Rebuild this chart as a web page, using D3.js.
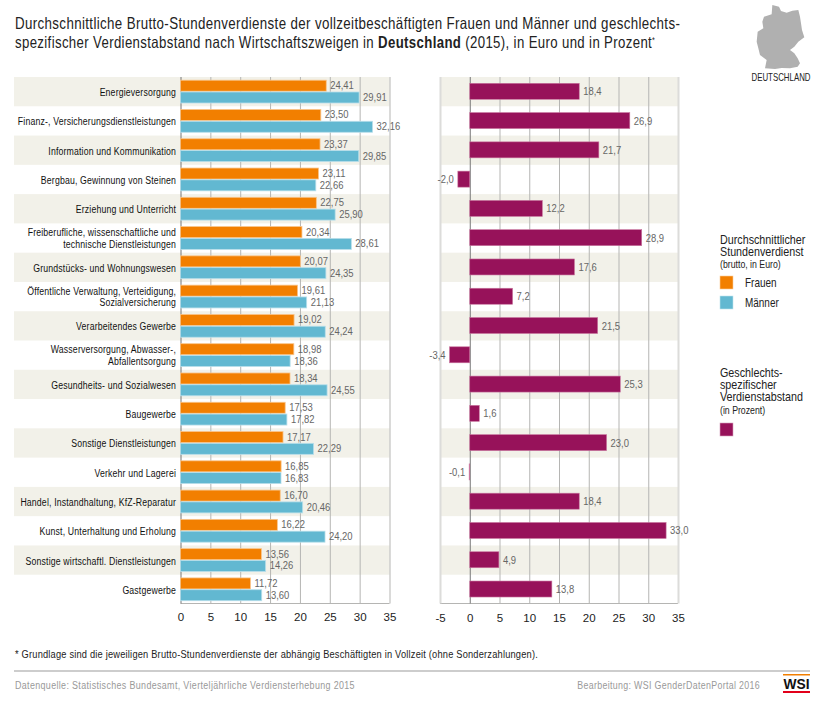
<!DOCTYPE html>
<html>
<head>
<meta charset="utf-8">
<script src="https://cdn.jsdelivr.net/npm/d3@7/dist/d3.min.js"></script>
<style>
  html, body { margin: 0; padding: 0; background: #fff; }
  svg { display: block; }
  text { font-family: "Liberation Sans", sans-serif; }
</style>
</head>
<body>
<div id="chart"></div>
<script>
const categories = [
  ["Energieversorgung"],
  ["Finanz-, Versicherungsdienstleistungen"],
  ["Information und Kommunikation"],
  ["Bergbau, Gewinnung von Steinen"],
  ["Erziehung und Unterricht"],
  ["Freiberufliche, wissenschaftliche und", "technische Dienstleistungen"],
  ["Grundstücks- und Wohnungswesen"],
  ["Öffentliche Verwaltung, Verteidigung,", "Sozialversicherung"],
  ["Verarbeitendes Gewerbe"],
  ["Wasserversorgung, Abwasser-,", "Abfallentsorgung"],
  ["Gesundheits- und Sozialwesen"],
  ["Baugewerbe"],
  ["Sonstige Dienstleistungen"],
  ["Verkehr und Lagerei"],
  ["Handel, Instandhaltung, KfZ-Reparatur"],
  ["Kunst, Unterhaltung und Erholung"],
  ["Sonstige wirtschaftl. Dienstleistungen"],
  ["Gastgewerbe"]
]
const frauen = [24.41, 23.50, 23.37, 23.11, 22.75, 20.34, 20.07, 19.61, 19.02, 18.98, 18.34, 17.53, 17.17, 16.85, 16.70, 16.22, 13.56, 11.72]
const maenner = [29.91, 32.16, 29.85, 22.66, 25.90, 28.61, 24.35, 21.13, 24.24, 18.36, 24.55, 17.82, 22.29, 16.83, 20.46, 24.20, 14.26, 13.60]
const abstand = [18.4, 26.9, 21.7, -2.0, 12.2, 28.9, 17.6, 7.2, 21.5, -3.4, 25.3, 1.6, 23.0, -0.1, 18.4, 33.0, 4.9, 13.8]
const ticksLeft = [0, 5, 10, 15, 20, 25, 30, 35]
const ticksRight = [-5, 0, 5, 10, 15, 20, 25, 30, 35]

const orange = "#f27f00", blue = "#62b8d1", purple = "#97125a"
const stripe = "#f2f1e9", grid = "#b5b5b3", ink = "#222", soft = "#666"

const svg = d3.select("#chart").append("svg").attr("width", 823).attr("height", 709)

const y = d3.scaleBand().domain(d3.range(categories.length)).range([77, 604])
const xL = d3.scaleLinear().domain([0, 35]).range([180.5, 389.5])
const xR = d3.scaleLinear().domain([-5, 35]).range([440, 678])
const comma = (v, n) => v.toFixed(n).replace(".", ",")

// no narrow font here, so squeeze the text horizontally
const label = (str, x, yy, size, k, color, anchor, spacing) => svg.append("text")
  .attr("transform", `translate(${x},${yy}) scale(${k},1)`)
  .attr("font-size", size).attr("fill", color || ink)
  .attr("text-anchor", anchor || "start")
  .attr("letter-spacing", spacing || 0)
  .text(str)

// stripes
svg.selectAll("rect.band").data(d3.range(0, 18, 2)).enter().append("rect")
  .attr("x", 14).attr("width", 375.5)
  .attr("y", (d) => y(d)).attr("height", y.bandwidth()).attr("fill", stripe)
svg.selectAll("rect.bandR").data(d3.range(0, 18, 2)).enter().append("rect")
  .attr("x", 440).attr("width", 238)
  .attr("y", (d) => y(d)).attr("height", y.bandwidth()).attr("fill", stripe)

// axes
const drawAxis = (x, ticks, pad) => {
  const g = svg.append("g").attr("transform", "translate(0,603.5)")
    .call(d3.axisBottom(x).tickValues(ticks).tickSize(-526.5).tickPadding(pad).tickFormat((d) => d))
  g.select(".domain").attr("stroke", grid).attr("stroke-width", 1.2).attr("d", `M${x.range()[0]},0H${x.range()[1]}`)
  g.selectAll(".tick line")
    .attr("stroke", (d) => d === 0 ? "#777" : grid)
    .attr("stroke-width", 1)
  g.selectAll(".tick text").attr("font-size", 11.5).attr("fill", ink)
  return g
}
drawAxis(xL, ticksLeft, 9)
const axR = drawAxis(xR, ticksRight, 10)
axR.selectAll(".tick line").filter((d) => d === -5 || d === 35).attr("stroke", "#dcdcda").attr("stroke-width", 2)

// category labels
categories.forEach((lines, i) => {
  const top = y(i) + y.bandwidth() / 2 + (lines.length > 1 ? 3.5 : 4.5) - (lines.length - 1) * 5.5
  lines.forEach((l, k) => label(l, 176, top + k * 11.5, 11.5, 0.76, "#111", "end", 0.2))
})

// Frauen / Maenner bars
const drawBars = (values, color, off, h) => {
  svg.selectAll(null).data(values).enter().append("rect")
    .attr("x", xL(0)).attr("y", (d, i) => y(i) + off)
    .attr("width", (d) => xL(d) - xL(0)).attr("height", h)
    .attr("fill", color).attr("stroke", d3.interpolateRgb(color, "#fff")(0.55)).attr("stroke-width", 0.8)
  values.forEach((d, i) => label(comma(d, 2), xL(d) + 4, y(i) + off + h / 2 + 3.5, 10.5, 0.9, soft))
}
drawBars(frauen, orange, 3.2, 11)
drawBars(maenner, blue, 15, 11)

// Verdienstabstand bars
svg.selectAll("rect.gap").data(abstand).enter().append("rect")
  .attr("x", (d) => xR(Math.min(0, d))).attr("y", (d, i) => y(i) + 6.3)
  .attr("width", (d) => Math.abs(xR(d) - xR(0))).attr("height", 16)
  .attr("fill", purple).attr("stroke", "#c9779f").attr("stroke-width", 0.6)
abstand.forEach((d, i) => label(comma(d, 1), d < 0 ? xR(d) - 4 : xR(d) + 4, y(i) + 18.3, 10.5, 0.9, soft, d < 0 ? "end" : "start"))

// title
label("Durchschnittliche Brutto-Stundenverdienste der vollzeitbeschäftigten Frauen und Männer und geschlechts-", 15, 28.5, 16.5, 0.808, ink, "start", 0.45)
const t2 = label("", 15, 48, 16.5, 0.8, ink, "start", 0.45)
t2.append("tspan").text("spezifischer Verdienstabstand nach Wirtschaftszweigen in ")
t2.append("tspan").attr("font-weight", "bold").text("Deutschland")
t2.append("tspan").text(" (2015), in Euro und in Prozent")
t2.append("tspan").attr("font-size", 9).attr("dy", -5).text("*")

// map
svg.append("path").attr("transform", "translate(755,0) scale(0.3333)")
  .attr("d", "M52,15L72,20L78,33L95,38L112,32L130,30L135,50L138,70L141,90L148,112L130,125L118,140L105,150L118,160L128,175L135,190L128,200L105,205L80,204L60,207L30,205L35,180L15,165L10,145L5,125L8,95L25,85L22,65L27,50L50,43Z")
  .attr("fill", "#b0b0b0")
label("DEUTSCHLAND", 781, 81, 10.5, 0.75, ink, "middle")

// legend
label("Durchschnittlicher", 720, 244, 12.5, 0.86, ink)
label("Stundenverdienst", 720, 256, 12.5, 0.86, ink)
label("(brutto, in Euro)", 720, 268, 10, 0.875, ink)
label("Geschlechts-", 720, 377, 12.5, 0.86, ink)
label("spezifischer", 720, 389, 12.5, 0.86, ink)
label("Verdienstabstand", 720, 401, 12.5, 0.86, ink)
label("(in Prozent)", 720, 414, 10, 0.875, ink)
const swatch = (yy, c) => svg.append("rect").attr("x", 720).attr("y", yy).attr("width", 13).attr("height", 13)
  .attr("fill", c).attr("stroke", d3.interpolateRgb(c, "#fff")(0.6)).attr("stroke-width", 0.6)
swatch(276, orange); swatch(296, blue); swatch(423, purple)
label("Frauen", 745, 287, 12, 0.83, ink)
label("Männer", 745, 307, 12, 0.83, ink)

// footer
label("* Grundlage sind die jeweiligen Brutto-Stundenverdienste der abhängig Beschäftigten in Vollzeit (ohne Sonderzahlungen).", 15, 658, 11.5, 0.806, ink, "start", 0.25)
svg.append("line").attr("x1", 14).attr("x2", 810).attr("y1", 671).attr("y2", 671).attr("stroke", "#bcbcbc").attr("stroke-width", 1.5)
label("Datenquelle: Statistisches Bundesamt, Vierteljährliche Verdiensterhebung 2015", 15, 689, 11.5, 0.776, "#999", "start", 0.45)
label("Bearbeitung: WSI GenderDatenPortal 2016", 760, 689, 11.5, 0.766, "#999", "end", 0.45)

// WSI logo
svg.append("rect").attr("x", 783).attr("y", 674).attr("width", 27).attr("height", 1.5).attr("fill", orange)
svg.append("rect").attr("x", 783).attr("y", 691).attr("width", 27).attr("height", 2).attr("fill", "#e2001a")
label("WSI", 796.5, 689, 15, 0.92, "#111", "middle").attr("font-weight", "bold")
</script>
</body>
</html>
